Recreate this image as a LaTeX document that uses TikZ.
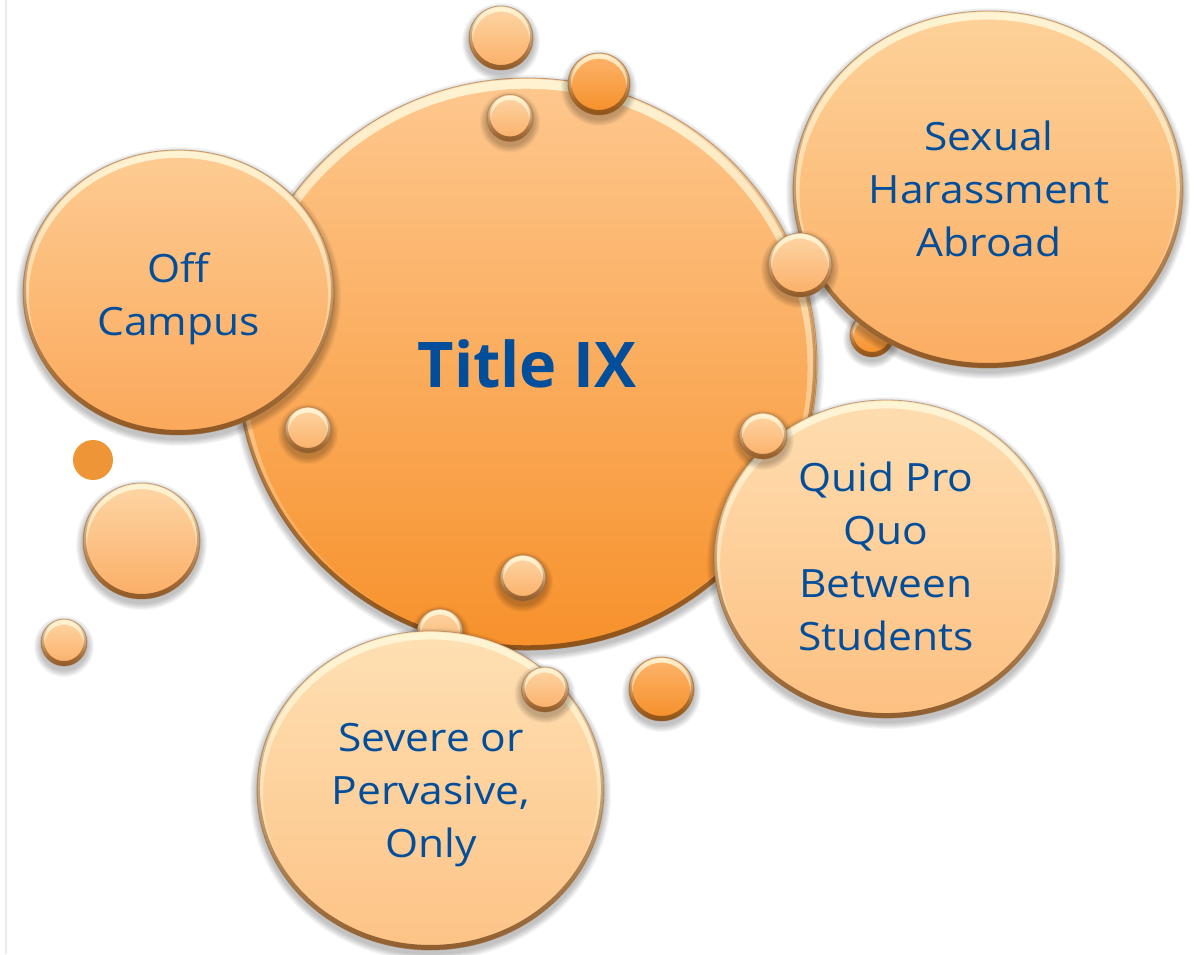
\documentclass[tikz,border=0pt]{standalone}
\usepackage{fontspec}
\setmainfont{Open Sans}
\usetikzlibrary{fadings}

\definecolor{txtblue}{HTML}{034E9B}
\definecolor{bigtop}{HTML}{FEC88F}
\definecolor{bigbot}{HTML}{F7912B}
\definecolor{offtop}{HTML}{FDCC93}
\definecolor{offbot}{HTML}{FBA85A}
\definecolor{sextop}{HTML}{FDD29A}
\definecolor{sexbot}{HTML}{FBAD62}
\definecolor{quidtop}{HTML}{FEDDB0}
\definecolor{quidbot}{HTML}{FDC081}
\definecolor{sevtop}{HTML}{FEE0B3}
\definecolor{sevbot}{HTML}{FDC386}
\definecolor{lighttop}{HTML}{FDD6A6}
\definecolor{lightbot}{HTML}{FBAE66}
\definecolor{darktop}{HTML}{FDB56D}
\definecolor{darkbot}{HTML}{F58E27}
\definecolor{flatorange}{HTML}{EE9537}
\definecolor{rimlight}{HTML}{FFF8DA}
\definecolor{rimdark}{HTML}{6B3E14}
\definecolor{rimline}{HTML}{8C6440}
\definecolor{sidebar}{HTML}{EBEBEB}

% fadings for the bevel: bright under the top rim, dark along the bottom rim
\tikzfading[name=rimtop, top color=transparent!0, middle color=transparent!100, bottom color=transparent!100]
\tikzfading[name=rimbot, top color=transparent!100, middle color=transparent!100, bottom color=transparent!0]

% bevelled bubble: centre x, centre y (measured downwards), x radius, y radius, top colour, bottom colour
\newcommand\orb[6]{%
  \begin{scope}[shift={(#1,954-#2)}]
    \pgfmathsetmacro\bandw{4+0.02*#4}
    \foreach \s in {0,...,6}{
      \fill[black, opacity=0.035] (0,-4) ellipse ({#3+7-\s} and {#4+7-\s});
    }
    \shade[top color=#5, bottom color=#6] (0,0) ellipse ({#3} and {#4});
    \fill[rimlight, path fading=rimtop, fill opacity=0.9, even odd rule]
      (0,0) ellipse ({#3-1} and {#4-1}) (0,-3) ellipse ({#3-\bandw+1} and {#4-\bandw+2});
    \fill[rimdark, path fading=rimbot, fill opacity=0.75, even odd rule]
      (0,0) ellipse ({#3} and {#4}) (0,2) ellipse ({#3-3} and {#4-3});
    \draw[rimline, line width=0.8pt, opacity=0.5] (0,0) ellipse ({#3} and {#4});
  \end{scope}
}

\tikzset{
  lbl/.style={text=txtblue, align=center, inner sep=0pt, xscale=1.09,
    font=\fontsize{39}{53}\selectfont},
  title/.style={text=txtblue, inner sep=0pt,
    font=\fontsize{63}{70}\selectfont\bfseries}
}

\begin{document}
\begin{tikzpicture}[x=1pt, y=1pt]
  \useasboundingbox (0,0) rectangle (1194,954);
  \clip (0,0) rectangle (1194,954);
  \fill[white] (0,0) rectangle (1194,954);
  \fill[sidebar] (4.5,0) rectangle (7,954);

  % central bubble and the one to its left
  \orb{527}{364}{290}{286}{bigtop}{bigbot}
  \orb{178.5}{292.5}{155.5}{142.5}{offtop}{offbot}

  % small bubbles lying under the outer topics
  \orb{308}{430}{23}{23}{lighttop}{lightbot}
  \orb{510}{118}{23}{23.5}{lighttop}{lightbot}
  \orb{599}{84}{31}{31}{darktop}{darkbot}
  \orb{501}{38}{32}{32}{lighttop}{lightbot}
  \orb{523}{578}{23}{23}{lighttop}{lightbot}
  \orb{440}{632}{23}{23}{lighttop}{lightbot}
  \orb{872}{335}{22}{22}{darktop}{darkbot}
  \orb{141.5}{541}{58.5}{58}{lighttop}{lightbot}
  \orb{64}{642.5}{23}{23.5}{lighttop}{lightbot}
  \orb{661.5}{689}{32.5}{32}{darktop}{darkbot}
  \fill[flatorange] (93,954-460) circle (20);

  % outer topics
  \orb{988}{189.5}{195}{178.5}{sextop}{sexbot}
  \orb{886.5}{559}{172.5}{159}{quidtop}{quidbot}
  \orb{430.5}{790.5}{173.5}{159.5}{sevtop}{sevbot}

  % small bubbles resting on top
  \orb{800}{265}{32}{32}{lighttop}{lightbot}
  \orb{763}{436}{24}{23}{lighttop}{lightbot}
  \orb{545}{689.5}{23.5}{22.5}{lighttop}{lightbot}

  % labels
  \node[title] (titleix) at (527,954-364) {Title IX};
  \node[lbl] (offcampus) at (178.5,954-298.5) {Off\\Campus};
  \node[lbl] (abroad) at (989,954-189) {Sexual\\Harassment\\Abroad};
  \node[lbl] (quidproquo) at (886,954-556) {Quid Pro\\Quo\\Between\\Students};
  \node[lbl] (severe) at (431,954-795) {Severe or\\Pervasive,\\Only};
\end{tikzpicture}
\end{document}
